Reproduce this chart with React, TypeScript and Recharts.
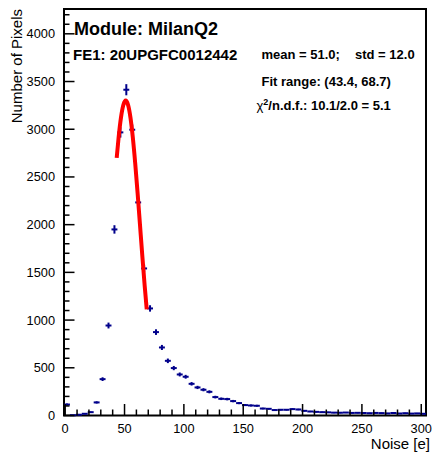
import React from 'react';
import { ComposedChart, Scatter, Line, XAxis, YAxis, ErrorBar, ReferenceArea } from 'recharts';

const BIN_CENTERS = [1.5, 6.5, 11.5, 16.5, 21.5, 26.5, 31.5, 36.5, 41.5, 46.5, 51.5, 56.5, 61.5, 66.5, 71.5, 76.5, 81.5, 86.5, 91.5, 96.5, 101.5, 106.5, 111.5, 116.5, 121.5, 126.5, 131.5, 136.5, 141.5, 146.5, 151.5, 156.5, 161.5, 166.5, 171.5, 176.5, 181.5, 186.5, 191.5, 196.5, 201.5, 206.5, 211.5, 216.5, 221.5, 226.5, 231.5, 236.5, 241.5, 246.5, 251.5, 256.5, 261.5, 266.5, 271.5, 276.5, 281.5, 286.5, 291.5, 296.5, 301.5];
const COUNTS = [115, 3, 8, 18, 35, 137, 381, 943, 1950, 2967, 3414, 2995, 2233, 1541, 1122, 874, 713, 573, 497, 430, 406, 332, 294, 270, 248, 193, 175, 172, 151, 130, 109, 105, 102, 73, 70, 57, 60, 60, 67, 63, 49, 42, 38, 35, 33, 30, 29, 31, 27, 28, 26, 24, 27, 25, 22, 26, 21, 24, 20, 22, 18];
const COUNT_ERRORS = [10.7, 1.7, 2.8, 4.2, 5.9, 11.7, 19.5, 30.7, 44.2, 54.5, 58.4, 54.7, 47.3, 39.3, 33.5, 29.6, 26.7, 23.9, 22.3, 20.7, 20.1, 18.2, 17.1, 16.4, 15.7, 13.9, 13.2, 13.1, 12.3, 11.4, 10.4, 10.2, 10.1, 8.5, 8.4, 7.5, 7.7, 7.7, 8.2, 7.9, 7.0, 6.5, 6.2, 5.9, 5.7, 5.5, 5.4, 5.6, 5.2, 5.3, 5.1, 4.9, 5.2, 5.0, 4.7, 5.1, 4.6, 4.9, 4.5, 4.7, 4.2];
const BIN_HALF_WIDTH = 2.5;

const FIT_X = [43.4, 45, 47, 49, 51, 53, 55, 57, 59, 61, 63, 65, 67, 68.7];
const FIT_Y = [2700, 2912, 3122, 3254, 3300, 3254, 3122, 2912, 2643, 2333, 2002, 1671, 1356, 1112];

const X_DOMAIN = [-1, 304];
const Y_DOMAIN = [0, 4260];
const X_MAJOR_TICKS = [0, 50, 100, 150, 200, 250, 300];
const X_MINOR_TICKS = [0, 10, 20, 30, 40, 50, 60, 70, 80, 90, 100, 110, 120, 130, 140, 150, 160, 170, 180, 190, 200, 210, 220, 230, 240, 250, 260, 270, 280, 290, 300];
const Y_MAJOR_TICKS = [0, 500, 1000, 1500, 2000, 2500, 3000, 3500, 4000];
const Y_MINOR_TICKS = [0, 100, 200, 300, 400, 500, 600, 700, 800, 900, 1000, 1100, 1200, 1300, 1400, 1500, 1600, 1700, 1800, 1900, 2000, 2100, 2200, 2300, 2400, 2500, 2600, 2700, 2800, 2900, 3000, 3100, 3200, 3300, 3400, 3500, 3600, 3700, 3800, 3900, 4000, 4100, 4200];

const histData = BIN_CENTERS.map((x, i) => ({ x, y: COUNTS[i], ey: COUNT_ERRORS[i], ex: BIN_HALF_WIDTH }));
const fitData = FIT_X.map((x, i) => ({ x, y: FIT_Y[i] }));

const FONT = '"Liberation Sans", Arial, Helvetica, sans-serif';
const MARKER = '#00008b';

const XTick = (props: any) => {
  const { x, y, payload } = props;
  const v = payload.value;
  const major = X_MAJOR_TICKS.includes(v);
  return (
    <g>
      <line x1={x} x2={x} y1={y} y2={y - (major ? 11.5 : 6)} stroke="#000" strokeWidth={1.5} />
      {major && (
        <text x={x} y={y + 17.5} textAnchor="middle" fontFamily={FONT} fontSize={12.8} fill="#000">
          {v}
        </text>
      )}
    </g>
  );
};

const YTick = (props: any) => {
  const { x, y, payload } = props;
  const v = payload.value;
  const major = Y_MAJOR_TICKS.includes(v);
  return (
    <g>
      <line x1={x} x2={x + (major ? 10.5 : 5.5)} y1={y} y2={y} stroke="#000" strokeWidth={1.5} />
      {major && (
        <text x={x - 9} y={y + 4.5} textAnchor="end" fontFamily={FONT} fontSize={12.8} fill="#000">
          {v}
        </text>
      )}
    </g>
  );
};

export default function App() {
  return (
    <div style={{ position: 'absolute', left: 0, top: 0, width: 434, height: 453, background: '#fff' }}>
      <ComposedChart width={434} height={453} margin={{ top: 9, right: 8, bottom: 0, left: 0 }}>
        <XAxis
          dataKey="x"
          type="number"
          domain={X_DOMAIN}
          ticks={X_MINOR_TICKS}
          interval={0}
          tick={XTick}
          tickLine={false}
          tickSize={0}
          tickMargin={0}
          axisLine={false}
          height={37.5}
          allowDataOverflow
        />
        <YAxis
          type="number"
          domain={Y_DOMAIN}
          ticks={Y_MINOR_TICKS}
          interval={0}
          tick={YTick}
          tickLine={false}
          tickSize={0}
          tickMargin={0}
          axisLine={false}
          width={64}
          allowDataOverflow
        />
        <ReferenceArea
          x1={X_DOMAIN[0]}
          x2={X_DOMAIN[1]}
          y1={Y_DOMAIN[0]}
          y2={Y_DOMAIN[1]}
          fill="none"
          fillOpacity={0}
          stroke="#000"
          strokeWidth={2}
          ifOverflow="visible"
        />
        <Scatter data={histData} dataKey="y" isAnimationActive={false} shape={() => <g />}>
          <ErrorBar dataKey="ey" direction="y" width={0} stroke={MARKER} strokeWidth={2} />
          <ErrorBar dataKey="ex" direction="x" width={0} stroke={MARKER} strokeWidth={2} />
        </Scatter>
        <Line
          data={fitData}
          dataKey="y"
          type="monotone"
          stroke="#ff0000"
          strokeWidth={4}
          dot={false}
          isAnimationActive={false}
        />
      </ComposedChart>
      <svg width={434} height={453} style={{ position: 'absolute', left: 0, top: 0, pointerEvents: 'none' }}>
        <text x={74} y={34.5} fontFamily={FONT} fontWeight="bold" fontSize={18} fill="#000">Module: MilanQ2</text>
        <text x={73} y={59.5} fontFamily={FONT} fontWeight="bold" fontSize={15} fill="#000">FE1: 20UPGFC0012442</text>
        <text x={261.5} y={59} fontFamily={FONT} fontWeight="bold" fontSize={13} fill="#000">mean = 51.0;</text>
        <text x={355} y={59} fontFamily={FONT} fontWeight="bold" fontSize={13} fill="#000">std = 12.0</text>
        <text x={261.5} y={86} fontFamily={FONT} fontWeight="bold" fontSize={13} fill="#000">Fit range: (43.4, 68.7)</text>
        <text x={256.5} y={110} fontFamily={FONT} fontWeight="bold" fontSize={13} fill="#000">
          <tspan fontWeight="normal">χ</tspan>
          <tspan fontSize={9} dy={-5}>2</tspan>
          <tspan dy={5}>/n.d.f.: 10.1/2.0 = 5.1</tspan>
        </text>
        <text
          x={21.5}
          y={9}
          transform="rotate(-90 21.5 9)"
          textAnchor="end"
          fontFamily={FONT}
          fontSize={15}
          fill="#000"
        >
          Number of Pixels
        </text>
        <text x={430} y={449} textAnchor="end" fontFamily={FONT} fontSize={15} fill="#000">Noise [e]</text>
      </svg>
    </div>
  );
}
